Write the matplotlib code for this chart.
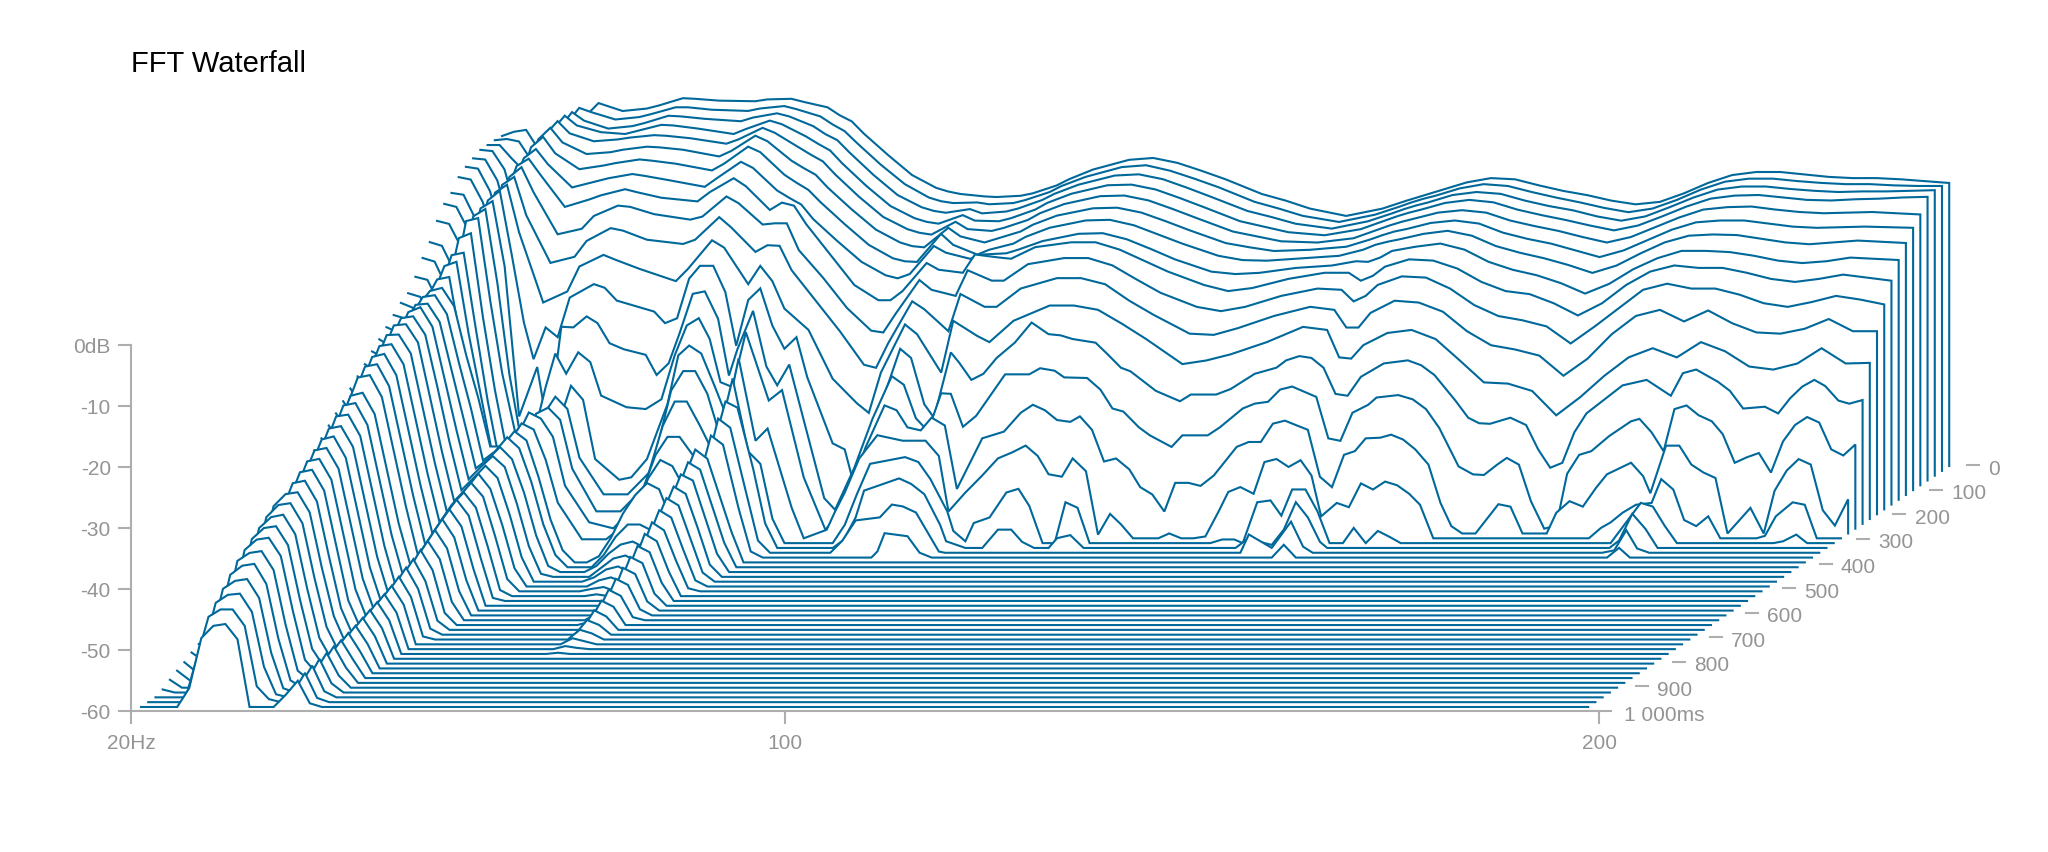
import matplotlib
matplotlib.use("Agg")
import matplotlib.pyplot as plt

plt.rcParams['font.family'] = ['Liberation Sans', 'DejaVu Sans']

### Data: level in dB per frequency bin, one list per 20 ms time slice
floor_db = -60
last_bin = 120

# slices 0-220 ms share one bin list
upper_bins = [0, 1, 2, 3, 4, 5, 6, 7, 8, 10,
              12, 13, 15, 16, 18, 21, 22, 24, 25, 27,
              28, 29, 30, 32, 34, 36, 37, 38, 40, 41,
              43, 44, 46, 47, 49, 52, 54, 56, 58, 60,
              63, 65, 67, 70, 73, 75, 76, 77, 78, 80,
              82, 84, 86, 88, 90, 92, 94, 96, 98, 100,
              102, 104, 106, 108, 110, 112, 114, 116, 118, 120]

db_000 = [-5.9, -5.2, -4.9, -8, -8, -6, -4, -2.5, -0.5, -1.8,
          -1.4, -0.9, 0.3, 0.2, -0.1, -0.2, 0.1, 0.2, -0.3, -1.2,
          -2.5, -3.5, -5.5, -9, -12.3, -14.4, -15, -15.4, -15.8, -15.9,
          -15.7, -15.3, -14, -13, -11.4, -9.8, -9.5, -10.3, -11.6, -13,
          -15.4, -16.5, -17.8, -19, -17.8, -16.5, -15.9, -15.3, -14.7, -13.5,
          -12.8, -13, -14, -14.9, -15.6, -16.5, -17.1, -16.7, -15.3, -13.6,
          -12.3, -11.8, -11.8, -12.2, -12.6, -12.8, -12.8, -13, -13.3, -13.6]
db_020 = [-5.8, -5.6, -6, -9, -8, -6, -3, -0.5, -1.2, -2.4,
          -2, -1.5, -0.4, -0.4, -0.8, -1, -0.6, -0.2, -0.7, -1.9,
          -3.2, -4.3, -6.2, -9.8, -13, -15.2, -15.8, -16.1, -16, -16.3,
          -16.1, -15.6, -14.3, -13.3, -11.8, -10.2, -9.9, -10.8, -12.1, -13.5,
          -15.9, -17, -18.2, -19.2, -18, -16.7, -16, -15.4, -14.9, -13.7,
          -13, -13.3, -14.3, -15.2, -16, -16.9, -17.6, -17, -15.6, -13.9,
          -12.6, -12.1, -12.1, -12.5, -12.8, -13, -13, -13.2, -13.3, -13.3]
db_040 = [-5.8, -5.8, -8, -10, -9, -6, -3, -0.4, -1.8, -3.1,
          -2.7, -2.2, -1, -1.1, -1.5, -1.9, -1.3, -0.6, -1.1, -2.7,
          -4, -5, -7, -10.7, -14, -16, -16.6, -16.9, -16.3, -17,
          -16.7, -16.2, -14.8, -13.8, -12.3, -10.8, -10.6, -11.4, -12.8, -14.3,
          -16.6, -17.6, -18.7, -19.5, -18.3, -17, -16.3, -15.7, -15.2, -14,
          -13.5, -13.8, -14.9, -15.8, -16.5, -17.5, -18.2, -17.5, -16, -14.4,
          -13.1, -12.6, -12.6, -13, -13.3, -13.5, -13.4, -13.4, -13.3, -13.2]
db_060 = [-5.8, -6, -9, -16, -14, -6, -2.5, -0.2, -1.8, -2.9,
          -3.2, -2.7, -1.7, -1.8, -2.3, -3.2, -2.4, -1, -1.6, -3.6,
          -4.8, -5.9, -8, -11.7, -15, -17, -17.6, -17.9, -16.5, -17.4,
          -17.5, -17, -15.6, -14.5, -13, -11.6, -11.5, -12.3, -13.7, -15.2,
          -17.5, -18.4, -19.3, -19.8, -18.8, -17.4, -16.7, -16.1, -15.6, -14.5,
          -14, -14.4, -15.6, -16.5, -17.3, -18.2, -19, -18.2, -16.7, -15.1,
          -13.8, -13.3, -13.2, -13.6, -14, -14.1, -13.9, -13.8, -13.6, -13.5]
db_080 = [-6.4, -6.6, -10, -17, -15, -8, -2.5, -0.3, -2.3, -3.6,
          -3.3, -3, -2.6, -2.7, -3.1, -4, -3.3, -1.4, -2.2, -4.6,
          -5.8, -6.9, -9, -12.7, -16, -18, -18.6, -18.9, -16.8, -18,
          -18.3, -17.8, -16.5, -15.4, -13.9, -12.6, -12.5, -13.3, -14.7, -16.2,
          -18.4, -19.2, -20, -20.2, -19.5, -18.1, -17.4, -16.8, -16.3, -15.3,
          -14.9, -15.3, -16.6, -17.5, -18.3, -19.3, -20.2, -19.3, -17.7, -16.1,
          -14.8, -14.4, -14.3, -14.8, -15.2, -15.4, -15.3, -15.2, -15.4, -15.6]
db_100 = [-7, -7.3, -11, -18, -15, -8, -2.5, -0.6, -3, -4.9,
          -4.6, -4.2, -3.7, -3.8, -4.2, -5.3, -4.4, -1.9, -2.8, -6,
          -7.2, -8.3, -10.4, -14, -17.3, -19.4, -20, -20.2, -17, -18.4,
          -19.4, -18.8, -17.6, -16.5, -15, -13.8, -13.7, -14.5, -15.9, -17.4,
          -19.5, -20.2, -20.8, -20.6, -20.1, -18.9, -18.2, -17.6, -17.2, -16.2,
          -15.8, -16.3, -17.8, -18.8, -19.6, -20.7, -21.8, -20.7, -19, -17.3,
          -16.1, -15.8, -15.8, -16.3, -16.8, -17, -16.9, -16.8, -16.9, -17]
db_120 = [-7.9, -8.3, -12, -19, -16, -9, -3, -1.3, -4, -6.6,
          -6, -5.6, -5, -5.2, -5.7, -6.8, -5.7, -2.9, -3.8, -7.5,
          -8.8, -10, -12, -15.6, -19, -21.2, -21.7, -21.8, -17.2, -19,
          -20.6, -19.8, -18.8, -17.7, -16.2, -15, -14.9, -15.8, -17.3, -18.8,
          -20.8, -21.5, -21.6, -21.2, -20.8, -19.8, -19, -18.5, -18.1, -17.2,
          -16.7, -17.5, -19.2, -20.3, -21.2, -22.3, -23.6, -22.4, -20.4, -18.6,
          -17.5, -17.3, -17.4, -18, -18.6, -18.9, -18.6, -18.3, -18.5, -18.7]
db_140 = [-9.7, -10, -14, -21, -17, -9, -4, -2.5, -5, -8.8,
          -7.8, -7.3, -6.6, -6.9, -7.6, -8.7, -7.3, -4.6, -5.6, -9.3,
          -10.5, -11.6, -14, -17.6, -21, -23.2, -23.7, -23, -18.4, -19.5,
          -20.5, -19.8, -19.6, -19, -17.6, -16.4, -16.3, -17.3, -18.9, -20.6,
          -22.6, -23, -22.8, -22, -21.6, -20.9, -21, -20.3, -19.2, -18.5,
          -18, -19, -21, -22.3, -23.2, -24.5, -26.2, -24.6, -22.2, -20.4,
          -19.2, -19.2, -19.4, -20, -20.8, -21.2, -20.9, -20.3, -20.5, -20.7]
db_160 = [-10.7, -11.2, -15, -23, -18, -10, -4.5, -3.3, -6, -11.2,
          -10, -9.3, -8.3, -8.8, -9.7, -10.3, -8.8, -6.5, -7.8, -11.7,
          -10.5, -11, -14, -19, -24, -26.5, -26.5, -25, -20.4, -21.5,
          -22, -19, -19.5, -19.7, -17.8, -17, -17, -18.2, -20, -21.8,
          -24, -25, -24.5, -23, -22, -22, -23.3, -22.5, -21, -19.8,
          -20, -21.3, -23.5, -25, -25.5, -27, -29, -27, -24, -21.8,
          -20.8, -21.2, -21.2, -22, -23, -23.5, -23, -22.3, -22.8, -23.3]
db_180 = [-12.7, -13.2, -17, -25, -20, -12, -5.5, -3.9, -8, -14.9,
          -14, -11.9, -10.2, -10.4, -11.6, -12.5, -12, -8.7, -9.8, -13.3,
          -13.1, -13.1, -17.5, -22, -27, -30.7, -31, -28, -22.4, -24,
          -25, -20.8, -22.5, -22.5, -19.8, -18.8, -18.8, -20, -22.3, -24.5,
          -26.8, -27.5, -26.8, -25, -23.8, -24, -25.9, -25, -23.2, -21.8,
          -22, -23.8, -26.5, -28.3, -29, -30, -32.8, -30, -27, -24,
          -23, -23.8, -23.8, -24.8, -26.2, -26.8, -26, -25, -25.6, -26.4]
db_200 = [-15.4, -16, -20, -27, -22, -14, -6, -4.7, -11, -18.8,
          -17.8, -15.2, -13.1, -13.5, -15, -15.7, -15, -11.3, -13, -17,
          -15.9, -16, -20, -25, -30, -35.5, -36, -32, -25.1, -26.4,
          -30, -23.9, -26, -26, -23, -21.3, -21.3, -22.3, -25, -27.3,
          -30.4, -30.6, -29.5, -27.5, -26, -26.5, -29.4, -29.4, -27, -25,
          -25.3, -26.8, -30, -32.3, -33, -34, -37.3, -34.5, -30.5, -27.5,
          -26.5, -28.4, -26.6, -28.7, -30.2, -30.4, -29.6, -28, -30, -30]
db_220 = [-17.2, -17.8, -22, -29, -24, -16, -6.5, -5.2, -13, -24.5,
          -22.7, -18.6, -16.7, -17.5, -19, -21, -19, -14.3, -15.5, -21.5,
          -18.5, -21, -25.5, -29, -37, -41, -42.6, -36, -28.1, -29.7,
          -36, -27.5, -30, -31, -27.5, -25, -25, -25.7, -28, -30.5,
          -34.6, -34, -33, -31, -28.5, -29, -33.5, -33.7, -31.5, -29.5,
          -29, -30.5, -34, -37.6, -37.8, -39, -43, -40, -36.5, -33.5,
          -32, -33.5, -31, -32.5, -35, -35.5, -34.5, -32, -34.5, -34.4]

# slices 240-380 ms: (bin, dB) pairs, these are the jagged ones
pts_240 = [(0, -19.5), (1, -20), (2, -24), (3, -30), (4, -24), (5, -15), (6, -7), (7, -5.4), (8, -16), (9, -27),
           (9.8, -33), (10.8, -27.8), (11.8, -29.4), (12.8, -22.9), (14.8, -20.7), (15.7, -21.3), (16.7, -23.4), (19.8, -25.2), (20.7, -27.1), (21.7, -26.3),
           (22.7, -19.8), (23.6, -17.7), (24.7, -17.7), (25.7, -22), (26.6, -30.8), (27.6, -23.3), (28.6, -21.4), (29.6, -27.5), (30.6, -31.3), (31.6, -29.4),
           (32.5, -36), (34.6, -46.8), (35.6, -47.8), (36.2, -52.3), (38, -44), (40.2, -31.3), (41.1, -32.8), (42.2, -40.4), (43, -42.6), (44.4, -31.9),
           (45.1, -33.6), (46.1, -36.4), (47.1, -35.4), (48.2, -32.8), (49.7, -30.3), (51.1, -27), (52.5, -28.9), (53.5, -29.1), (54.5, -29.7), (56.4, -30.3),
           (57.4, -32.2), (58.5, -34.4), (59.3, -35), (61.4, -38.2), (63.4, -39.9), (64.3, -38.8), (66.4, -38.8), (67.6, -37.9), (69.6, -35.4), (71.4, -34.4),
           (72.2, -33.2), (73.3, -32.5), (74.3, -32.8), (75.3, -34.4), (76.3, -38.7), (77.3, -39), (78.4, -35.9), (80.3, -33.7), (82.3, -33.2), (83.4, -34),
           (84.5, -35.6), (86.2, -39.7), (87.3, -42.6), (88.2, -43.5), (89.1, -43.6), (90.8, -42.6), (92.1, -43.8), (93.1, -47.8), (94.1, -50.8), (95.1, -50),
           (96.1, -45), (97.1, -41.9), (100.1, -37.3), (102.1, -36.4), (104.1, -39), (105.1, -35.3), (106.2, -34.7), (108, -36.7), (109, -38.2), (110.1, -41.1),
           (111.9, -40.8), (113, -41.9), (114, -39.4), (115, -37.5), (116, -36.4), (116.9, -37.4), (118, -39.8), (118.9, -40.3), (120, -39.7)]
pts_260 = [(0, -21.4), (1, -22), (2, -26), (3, -32), (4, -26), (5, -16), (6, -7.5), (7, -6.3), (8, -17), (9.2, -41.6),
           (10.7, -33.5), (11.6, -44), (12.7, -26.9), (13.7, -27), (14.8, -25.2), (15.7, -26.3), (16.7, -29.6), (17.9, -30.6), (19.7, -31.5), (20.6, -34.8),
           (21.6, -32.9), (22.5, -28), (23.6, -21.5), (24.6, -21.1), (25.7, -25.6), (26.6, -34.9), (27.3, -30.6), (28.6, -24.3), (29.7, -33.4), (30.6, -36.5),
           (31.6, -33.1), (32.8, -42.2), (34.5, -55), (35.4, -56.9), (37, -50), (38.5, -42), (40.1, -35), (41.1, -36.4), (42.1, -41.9), (43.1, -44),
           (44.2, -37.8), (45, -37.9), (46, -43.3), (47.1, -41.5), (49.5, -34.7), (51.5, -34.7), (52.4, -33.7), (53.6, -34.1), (54.4, -35.2), (56.3, -35.3),
           (57.4, -37.2), (58.4, -40.3), (59.3, -40.8), (60.6, -43.4), (61.5, -44.7), (63.3, -46.6), (64.2, -44.7), (66.3, -44.7), (67.3, -43.4), (69.2, -40.3),
           (70.2, -39.5), (71.3, -39.2), (72.3, -37.2), (73.3, -36.7), (75.3, -38.4), (76.3, -45.2), (77.3, -45.6), (78.3, -41), (79.6, -39.7), (80.3, -38.5),
           (82.1, -38.1), (83.3, -38.8), (84.4, -40.4), (85.5, -43.5), (87.1, -49.8), (88.3, -51.1), (89.2, -51.2), (90.3, -49.5), (91.1, -48.4), (92.1, -49.5),
           (93.1, -55.5), (94.2, -60), (95.2, -59.5), (96.1, -51), (97.1, -47.9), (98.1, -47.3), (99.6, -44.8), (101.4, -42.4), (102.1, -42), (103.1, -44.2),
           (104.1, -47.3), (105, -40.4), (106, -39.8), (107, -41.4), (108.1, -42.4), (109, -44.5), (110, -49.2), (111, -48.3), (112, -47.6), (113, -50.8),
           (114, -45.7), (115, -43), (116, -41.7), (117, -42.6), (118, -47), (119, -48), (120, -46.2)]
pts_280 = [(0, -22.2), (1, -23), (2, -27), (3, -33), (4, -27), (5, -17), (6, -8), (7, -6.8), (8, -19), (9, -34),
           (10, -45), (11, -44), (12, -36), (12.8, -30.5), (13.7, -33.8), (14.7, -30.3), (15.7, -31.9), (16.6, -37.4), (18.7, -39.3), (20.3, -39.6),
           (21.6, -38), (22.7, -30.8), (23.7, -25.9), (24.7, -24.7), (25.6, -28.1), (26.5, -35.2), (27.5, -36), (28.6, -27), (30.5, -38.2), (31.6, -36.5),
           (33.4, -50.8), (35.2, -59.4), (37, -55), (38.5, -46), (40.1, -39), (41.1, -39.8), (42, -42.6), (43.1, -43.1), (44, -41), (45.1, -42.3),
           (46.1, -52.7), (48.2, -44.4), (50, -43.3), (51.4, -40.2), (52.4, -38.9), (53.4, -39.8), (54.4, -41.4), (55.5, -41.7), (56.3, -40.8), (57.3, -43),
           (58.3, -48.2), (59.3, -47.7), (60.4, -49.5), (61.3, -52.4), (62.3, -53.6), (63.3, -56.4), (64.2, -51.7), (65.3, -51.7), (66.3, -52.2), (67.4, -50.5),
           (69.3, -45.8), (70.3, -45), (71.3, -45), (72.3, -42), (73.3, -41.5), (74.3, -42.3), (75.2, -43), (76.2, -50.7), (77.2, -52.4), (78.2, -47.1),
           (79.1, -46.5), (80, -44.4), (81.2, -44.3), (82.1, -43.8), (83.1, -44.6), (84.1, -46.2), (85.2, -48.7), (86.2, -55), (87.1, -58.8), (88, -60),
           (89.1, -60), (91, -55.2), (92, -55.6), (93, -60), (95, -60), (95.8, -56.6), (96.9, -54.7), (98, -55.6), (99.1, -52.5), (100, -50.3),
           (102, -48.4), (103, -50.6), (103.6, -53.4), (104.9, -45.6), (106, -45.6), (107, -48.7), (108, -50), (109, -50.9), (110, -60), (111.9, -55.8),
           (113, -60), (113.9, -53), (114.9, -49.7), (115.9, -47.8), (116.9, -48.7), (117.9, -56.2), (118.9, -58.7), (120, -54.4)]
pts_300 = [(0, -23.4), (1, -24), (2, -28), (3, -34), (4, -28), (5, -18), (6, -8), (7, -7.5), (8, -21), (9, -33),
           (10, -42), (11, -48), (12, -46), (13.7, -41), (14.7, -35), (15.7, -37.3), (16.7, -47), (18.7, -50.4), (19.7, -50), (21, -47),
           (22.7, -38), (23.6, -30), (24.5, -28.4), (25.5, -29.7), (26.6, -35), (27.6, -40), (28.6, -30.5), (30, -44), (31, -42), (33, -55),
           (34, -60), (35.9, -58.6), (36.6, -55.6), (37.4, -52.5), (38.6, -46.9), (40.1, -43.1), (42.2, -44), (44.1, -44), (45.2, -46.5), (46, -55.6),
           (47.4, -52.5), (48.8, -49.7), (50.1, -46.9), (51.3, -45.9), (52.4, -44.8), (53.4, -46.5), (54.3, -49.5), (55.4, -49.9), (56.3, -46.9), (57.4, -49),
           (58.4, -59.4), (59.4, -56), (60.3, -57.7), (61.3, -60), (63.4, -60), (64.3, -59.2), (65.3, -60), (66.3, -60), (67.3, -59.7), (68.4, -55.6),
           (69.2, -52.4), (70.2, -51.6), (71.3, -52.7), (72.2, -47.5), (73.2, -47), (74.2, -48.3), (75.2, -47.2), (76.1, -49.7), (76.9, -56.4), (78.2, -54.2),
           (79.2, -54.9), (80.2, -51), (81.2, -52), (82.2, -50.7), (83.2, -51.3), (84.2, -52.7), (85.1, -54.5), (86.2, -60), (99.1, -60), (100.1, -58.3),
           (100.9, -57.4), (101.9, -55.8), (103, -54.5), (104.3, -54.2), (105.1, -50.3), (106.1, -52), (107, -57), (108, -58), (109, -56.4), (110, -60),
           (113, -60), (113.7, -59.6), (114.6, -56.4), (116, -54.1), (117, -54.5), (118, -60), (120, -60)]
pts_320 = [(0, -24.6), (1, -25.5), (2, -29), (3, -35), (4, -29), (5, -19), (6, -10), (7, -9.2), (8, -23), (9, -35),
           (10, -45), (11, -50), (12, -44), (13, -39), (14, -36), (15, -38), (16, -46), (18, -52), (20, -52), (22, -48),
           (23.6, -35), (24.6, -31.8), (25.6, -31.8), (26.6, -35.5), (27.6, -42), (28.7, -33), (30, -45), (31, -47), (32, -56), (33, -60),
           (37, -60), (38, -57), (39, -52), (40.1, -47), (43, -45.9), (44.1, -46.7), (45.1, -49.5), (46.5, -54.8), (47, -58), (48, -59.7),
           (48.7, -56.7), (50, -55.8), (51.4, -51.7), (52.4, -51.1), (53.3, -53.9), (54.4, -60), (55.4, -60), (56.3, -53.3), (57.3, -54.2), (58.3, -60),
           (68.3, -60), (69.3, -59.4), (70.3, -59.4), (71, -60), (72.2, -53.3), (73.3, -53), (74.2, -55.5), (75.1, -51.2), (76.2, -51.2), (77.2, -54.8),
           (78.2, -60), (79.3, -60), (80.2, -57.5), (81.2, -60), (82.2, -58), (83.2, -59), (84.1, -60), (101.5, -60), (103.4, -55), (104, -53.4),
           (105, -54), (106, -57.2), (107, -60), (115, -60), (115.8, -59.7), (116.9, -58.6), (117.8, -60), (120, -60)]
pts_340 = [(0, -25.8), (1, -27), (2, -31), (3, -37), (4, -29), (5, -18), (6, -12), (7, -11.6), (8, -24), (9, -36),
           (10, -46), (11, -50), (12, -44), (13, -38), (14, -37), (15, -39), (16, -47), (18, -54), (20, -54), (22, -50),
           (23.5, -40), (24.5, -36), (25.5, -36), (26.6, -40), (27.6, -44), (28.7, -36), (29.7, -37), (31, -47), (32, -56), (33, -60),
           (37.6, -60), (38.5, -58.7), (39.5, -55), (40.2, -50.6), (43.1, -48.6), (44.1, -49.5), (45.2, -51.2), (46.5, -56.2), (47, -58.9), (48.6, -60),
           (50, -60), (51.3, -57), (52.4, -57), (53.3, -59), (54.3, -60), (55.5, -60), (56.2, -58.4), (57.3, -57.9), (58.4, -60), (71, -60),
           (72, -58.5), (73, -59), (74, -59.5), (75, -57), (76, -52.5), (77, -55), (78, -59), (78.6, -60), (102, -60), (102.8, -58.8),
           (103.9, -54.4), (105, -56.9), (106, -60), (120, -60)]
pts_360 = [(0, -27), (1, -28), (2, -32), (3, -39), (4, -29), (5, -18), (6, -13), (7, -12.3), (8, -24), (9, -34),
           (10, -44), (11, -46), (12, -41), (13, -37), (14, -38), (15, -41), (16, -49), (18, -55), (20, -56), (22, -52),
           (23.5, -44), (24.5, -41), (25.5, -41), (26.6, -44), (27.6, -47), (28.7, -38), (29.7, -39.5), (31, -50), (32, -58), (33, -60),
           (38, -60), (39, -58), (40.1, -54.7), (42.1, -54.2), (43.1, -52.1), (44, -52.4), (45.1, -53.4), (47, -59.8), (47.5, -60), (72, -60),
           (72.7, -57), (74.6, -59.2), (76.2, -54.9), (77.2, -59), (78, -60), (102, -60), (103, -59.6), (104, -56.3), (104.9, -59.3), (105.9, -60),
           (120, -60)]
pts_380 = [(0, -28.3), (1, -29.5), (2, -33), (3, -40), (4, -29), (5, -18), (6, -14.4), (7, -14), (8, -25), (9, -34),
           (10, -43), (11, -44), (12, -41), (13, -38), (14, -39), (15, -44), (16, -51), (18, -57), (20, -57), (22, -54),
           (23.5, -47), (24.5, -44), (25.5, -45), (26.6, -49), (27.6, -48), (28.7, -40), (29.7, -41.5), (31, -52), (32, -59), (33, -60),
           (42, -60), (42.5, -59), (43.1, -56), (45, -56.5), (46, -59.2), (47, -60), (75.2, -60), (76.2, -57.9), (77.2, -60), (103, -60),
           (104, -58.4), (104.9, -60), (120, -60)]

# slices 400-1000 ms: low bins plus, up to 780 ms, a few bins of the side humps
low_bins = [0, 1, 2, 3, 4, 5, 6, 7, 8, 9, 10, 11, 12, 13, 14, 15, 16, 17, 18]
mid_bins = [19, 20, 21, 22, 23, 24, 25, 26, 27, 28, 29, 30, 31, 32]

low_400 = [-29.5, -33, -38, -42, -28, -18, -15.5, -15, -18, -26, -33, -41, -41, -38.5, -40, -46, -53, -58, -60]
low_420 = [-30.7, -34, -39, -43, -28, -19, -15.7, -15.4, -18.5, -26.5, -34, -42.5, -41, -38.7, -40.5, -46, -53, -58, -60]
low_440 = [-32, -35, -40, -44, -29, -20, -16.2, -16, -19, -27, -35, -43, -41.5, -39.5, -41.5, -47, -54, -59, -60]
low_460 = [-33.2, -36, -41, -45, -30, -21, -16.6, -15.8, -19, -27.5, -36, -44, -42, -40.2, -42, -48, -55, -59.5, -60]
low_480 = [-34.4, -37, -42, -46, -31, -21, -16.8, -16.5, -19.5, -28, -37, -45, -43, -41, -43, -49, -56, -60, -60]
low_500 = [-35.7, -38.5, -43, -47, -32, -22, -17.2, -17, -20, -29, -38, -46, -44, -41.5, -44, -50, -57, -60, -60]
low_520 = [-36.9, -40, -44, -47, -33, -23, -18, -17.9, -21, -30, -39, -47, -44.5, -42.2, -44.5, -51, -58, -60, -60]
low_540 = [-38.1, -41, -45, -48, -34, -24, -19, -18.7, -22, -31, -40, -48, -45, -43, -45.5, -52, -59, -60, -60]
low_560 = [-39.4, -42, -46, -49, -35, -25, -20, -19.5, -23, -32, -41, -49, -46, -43.4, -46, -53, -59.5, -60, -60]
low_580 = [-40.6, -43, -47, -50, -36, -26, -20.8, -20.4, -24, -33, -42, -50, -47, -44.2, -47, -54, -60, -60, -60]
low_600 = [-41.8, -44, -48, -51, -37, -27, -21.8, -21.4, -25, -34, -43, -51, -48, -45, -48, -55, -60, -60, -60]
low_620 = [-43, -45, -49, -52, -39, -29, -24, -23.5, -27, -36, -45, -52, -49, -46, -49, -56, -60, -60, -60]
low_640 = [-44.3, -46, -50, -52, -40, -30, -24.8, -24.4, -28, -37, -46, -53, -50, -47, -50, -57, -60, -60, -60]
low_660 = [-45.5, -47, -51, -53, -41, -31, -25.8, -25.5, -29, -38, -47, -54, -51, -47.7, -51, -58, -60, -60, -60]
low_680 = [-46.7, -48, -52, -54, -42, -32, -27, -26.6, -30, -39, -48, -54.5, -51.5, -48.4, -52, -58.5, -60, -60, -60]
low_700 = [-48, -49.5, -53, -55, -43, -33, -28, -27.5, -31, -40, -49, -55, -52, -49, -52.5, -59, -60, -60, -60]
low_720 = [-49.2, -50.5, -54, -55.5, -44, -34, -29, -28.6, -32, -41, -50, -55.5, -52.5, -49.7, -53, -59.5, -60, -60, -60]
low_740 = [-50.4, -52, -55, -56, -45, -35, -30, -29.6, -33, -42, -51, -56, -53, -50.4, -53.5, -60, -60, -60, -60]
low_760 = [-51.7, -53, -56, -57, -46, -36, -31, -30.6, -34, -43, -52, -56.5, -53.5, -51, -54, -60, -60, -60, -60]
low_780 = [-52.9, -54, -57, -57.5, -47, -37, -32, -31.6, -35, -44, -52.5, -57, -54, -51.5, -54.5, -60, -60, -60, -60]
low_800 = [-54, -55, -58, -58, -44, -35, -33, -32.7, -36, -45, -53, -57.5, -54.5, -52, -55, -60]
low_820 = [-55, -56, -58.5, -58.5, -45, -36, -34, -33.7, -37, -46, -54, -58, -55, -52.5, -55.5, -60]
low_840 = [-56, -57, -59, -59, -46, -37, -35.2, -34.8, -38, -47, -55, -58.5, -55.5, -53, -56, -60]
low_860 = [-56.6, -58, -59.5, -59.5, -47, -38, -36.2, -35.9, -39, -48, -56, -59, -56, -53.4, -56.5, -60]
low_880 = [-57.4, -59, -60, -60, -48, -39, -37.3, -37, -40, -49, -57, -59.3, -56.5, -53.8, -57, -60]
low_900 = [-58, -59.5, -60, -60, -49, -40, -38.7, -38.4, -41.5, -50.5, -58, -59.6, -57, -54, -57.5, -60]
low_920 = [-58.7, -60, -60, -60, -50, -41.5, -40, -39.7, -43, -52, -58.8, -60, -57.5, -54.3, -58, -60]
low_940 = [-59.5, -60, -60, -60, -51, -43, -41.7, -41.4, -44.5, -53.5, -59.3, -60, -58, -54.5, -58.5, -60]
low_960 = [-60, -60, -60, -60, -52, -44.5, -43.2, -43, -46, -55, -59.5, -60, -58, -54.8, -59, -60]
low_980 = [-60, -60, -60, -60, -53, -46, -44.8, -44.8, -47.5, -57.4, -59.5, -60, -58.5, -55.2, -59.3, -60]
low_1000 = [-60, -60, -60, -60, -56.9, -48.7, -46.7, -46.4, -48.9, -60, -60, -60, -58, -55.7, -59.4, -60]

mid_400 = [-60, -59, -56, -52, -49, -47, -48, -53, -46.5, -41.5, -43, -49, -55, -60]
mid_420 = [-60, -60, -58, -55, -53, -53, -54, -57, -48, -42.8, -44, -50, -56, -60]
mid_440 = [-60, -60, -59, -57, -55.5, -55, -56, -59, -49, -44, -45, -51, -57, -60]
mid_460 = [-60, -60, -60, -58.5, -57, -56.5, -57.5, -60, -50, -45.2, -46.4, -52, -58, -60]
mid_480 = [-60, -60, -60, -59.3, -58, -57.5, -58.5, -60, -51, -46.3, -47.5, -53, -58.5, -60]
mid_500 = [-60, -60, -60, -60, -59, -58.5, -59.3, -60, -52.5, -47.5, -48.7, -54, -59, -60]
mid_520 = [-60, -60, -60, -60, -59.6, -59.3, -60, -60, -54, -48.7, -50, -55, -59.5, -60]
mid_540 = [-60, -60, -60, -60, -60, -59.7, -60, -60, -55, -49.8, -51, -56, -60, -60]
mid_560 = [-60, -60, -60, -60, -60, -60, -60, -60, -56, -51, -52, -57, -60, -60]
mid_580 = [-60, -60, -60, -60, -60, -60, -60, -60, -57, -52, -53, -58, -60, -60]
mid_600 = [-60, -60, -60, -60, -60, -60, -60, -60, -58, -53, -54, -58.5, -60, -60]
mid_620 = [-60, -60, -60, -60, -60, -60, -60, -60, -58.5, -54, -55, -59, -60, -60]
mid_640 = [-60, -60, -60, -60, -60, -60, -60, -60, -59, -55, -56, -59.5, -60, -60]
mid_660 = [-60, -60, -60, -60, -60, -60, -60, -60, -59.5, -56, -57, -60, -60, -60]
mid_680 = [-60, -60, -60, -60, -60, -60, -60, -60, -60, -56.8, -57.8, -60, -60, -60]
mid_700 = [-60, -60, -60, -60, -60, -60, -60, -60, -60, -57.6, -58.4, -60, -60, -60]
mid_720 = [-60, -60, -60, -60, -60, -60, -60, -60, -60, -58.4, -59, -60, -60, -60]
mid_740 = [-60, -60, -60, -60, -60, -60, -60, -60, -60, -59, -59.5, -60, -60, -60]
mid_760 = [-60, -60, -60, -60, -60, -60, -60, -60, -60, -59.5, -59.8, -60, -60, -60]
mid_780 = [-60, -60, -60, -60, -60, -60, -60, -60, -60, -59.8, -60, -60, -60, -60]

upper_rows = [db_000, db_020, db_040, db_060, db_080, db_100, db_120, db_140, db_160, db_180, db_200, db_220]
pts_rows = [pts_240, pts_260, pts_280, pts_300, pts_320, pts_340, pts_360, pts_380]
low_rows = [low_400, low_420, low_440, low_460, low_480, low_500, low_520, low_540, low_560, low_580,
            low_600, low_620, low_640, low_660, low_680, low_700, low_720, low_740, low_760, low_780,
            low_800, low_820, low_840, low_860, low_880, low_900, low_920, low_940, low_960, low_980, low_1000]
mid_rows = [mid_400, mid_420, mid_440, mid_460, mid_480, mid_500, mid_520, mid_540, mid_560, mid_580,
            mid_600, mid_620, mid_640, mid_660, mid_680, mid_700, mid_720, mid_740, mid_760, mid_780]

level_ticks = [0, -10, -20, -30, -40, -50, -60]
level_labels = ['0dB', '-10', '-20', '-30', '-40', '-50', '-60']
freq_tick_bins = [-0.83, 53.4, 120.9]
freq_labels = ['20Hz', '100', '200']
time_ticks = [0, 100, 200, 300, 400, 500, 600, 700, 800, 900]

### Style and axis set-up
line_color = '#00689A'
axis_color = '#AEAEAE'
text_color = '#949494'
font_size = 15

# one bin is 12.06 px and one dB 6.1 px on this canvas
fig = plt.figure(figsize=(20.48, 8.53), dpi=100)
ax = fig.add_axes([0, 0, 1, 1])
ax.set_xlim(-141 / 12.06, (2048 - 141) / 12.06)
ax.set_ylim(-60 - 141 / 6.1, -60 + 712 / 6.1)
ax.axis('off')

# offset of one 20 ms slice
step_x = 0.5987
step_y = 0.79
front_y = 0.66  # the 1000 ms slice sits a little above the axis


def slice_series(index):
    if index < len(upper_rows):
        return list(upper_bins), list(upper_rows[index])
    index -= len(upper_rows)
    if index < len(pts_rows):
        row = pts_rows[index]
        return [p[0] for p in row], [p[1] for p in row]
    index -= len(pts_rows)
    row = low_rows[index]
    bins = low_bins[:len(row)]
    levels = list(row)
    if index < len(mid_rows):
        bins = bins + mid_bins
        levels = levels + mid_rows[index]
    return list(bins), levels


### Draw back to front so the nearer slices hide the ones behind them
for i in range(51):
    bins, levels = slice_series(i)
    if bins[-1] < last_bin:
        bins.append(last_bin)
        levels.append(floor_db)
    off_x = (50 - i) * step_x
    off_y = (50 - i) * step_y + front_y
    xs = [b + off_x for b in bins] + [last_bin + off_x]
    ys = [v + off_y for v in levels] + [floor_db + off_y]
    ax.fill_between(xs, ys, floor_db + off_y, color='white', lw=0, zorder=2 + i)
    ax.plot(xs, ys, color=line_color, lw=1.5, solid_joinstyle='miter', zorder=2 + i)

### Axes
ax.plot([-0.83, -0.83], [-60, 0], color=axis_color, lw=1.5, zorder=100)
ax.plot([-0.83, 121.9], [-60, -60], color=axis_color, lw=1.5, zorder=100)
for v, lab in zip(level_ticks, level_labels):
    ax.plot([-1.8, -0.83], [v, v], color=axis_color, lw=1.5, zorder=100)
    ax.text(-2.5, v - 0.3, lab, ha='right', va='center', color=text_color, fontsize=font_size)
for b, lab in zip(freq_tick_bins, freq_labels):
    ax.plot([b, b], [-62, -60], color=axis_color, lw=1.5, zorder=100)
    ax.text(b, -65.1, lab, ha='center', va='center', color=text_color, fontsize=font_size)
for t in time_ticks:
    k = (1000 - t) / 100
    x0 = 120.9 + 0.99 + k * 3.05 - 0.98
    y0 = -60 + k * 4.03
    ax.plot([x0, x0 + 1.0], [y0, y0], color=axis_color, lw=1.5, zorder=100)
    ax.text(x0 + 1.75, y0 - 0.5, str(t), ha='left', va='center', color=text_color, fontsize=font_size)
ax.text(121.0 + 2.0, -60.5, '1 000ms', ha='left', va='center', color=text_color, fontsize=font_size)

fig.text(131 / 2048, 1 - 64 / 853, 'FFT Waterfall', ha='left', va='center', color='black', fontsize=21)

plt.savefig('out.png', dpi=100)
